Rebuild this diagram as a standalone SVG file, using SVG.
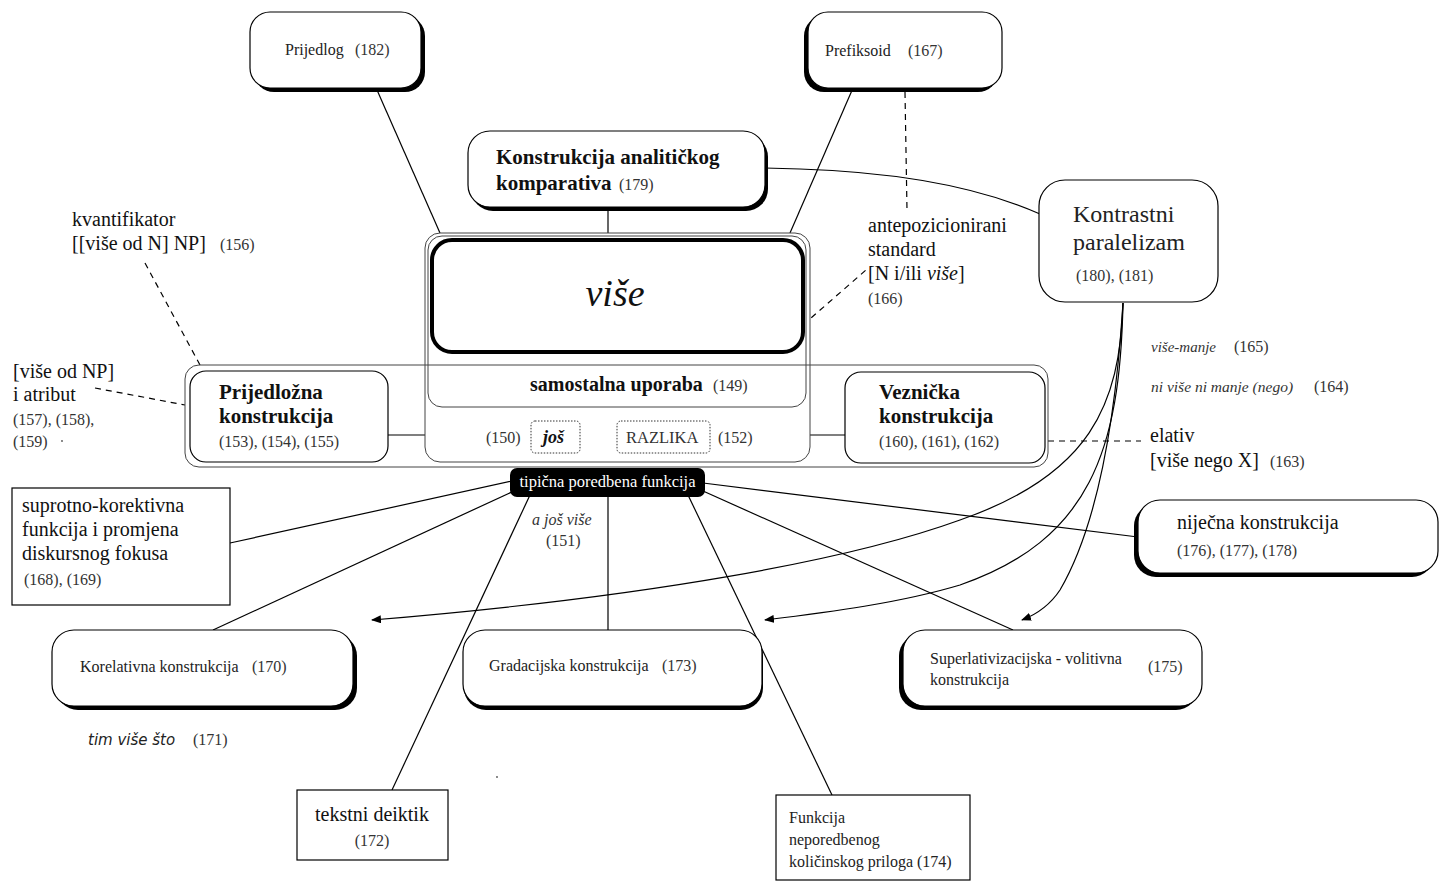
<svg xmlns="http://www.w3.org/2000/svg" width="1445" height="881" viewBox="0 0 1445 881">
<style>
.bx{fill:#fff;stroke:#000;stroke-width:1.2}
.sh{fill:#000}
.fr{fill:none;stroke:#444;stroke-width:1}
.ln{fill:none;stroke:#000;stroke-width:1.2}
.ds{fill:none;stroke:#000;stroke-width:1.2;stroke-dasharray:6 5}
.dt{fill:#fff;stroke:#333;stroke-width:1;stroke-dasharray:1.5 1.5}
text{font-family:"Liberation Serif","Times New Roman",serif;fill:#111}
.n{font-size:16px;fill:#333}
.s20{font-size:20px}
.b{font-weight:bold;font-size:21px}
.i{font-style:italic}
</style>
<defs>
<marker id="ar" markerWidth="10" markerHeight="8" refX="9" refY="4" orient="auto" markerUnits="userSpaceOnUse">
<path d="M0,0 L10,4 L0,8 Z" fill="#000"/>
</marker>
</defs>

<g id="connectors">
<line class="ln" x1="377" y1="90" x2="440" y2="233"/>
<line class="ln" x1="853" y1="88" x2="790" y2="233"/>
<line class="ln" x1="608" y1="207" x2="608" y2="233"/>
<path class="ln" d="M765,168 L800,169 Q950,174 1040,214"/>
<line class="ds" x1="905" y1="92" x2="907" y2="210"/>
<line class="ds" x1="803" y1="325" x2="866" y2="270"/>
<line class="ds" x1="145" y1="263" x2="200" y2="365"/>
<line class="ds" x1="95" y1="388" x2="185" y2="405"/>
<line class="ds" x1="1048" y1="441" x2="1141" y2="441"/>
<line class="ln" x1="388" y1="435" x2="425" y2="435"/>
<line class="ln" x1="810" y1="435" x2="845" y2="435"/>
<line class="ln" x1="557" y1="407" x2="557" y2="421"/>
<line class="ln" x1="665" y1="407" x2="665" y2="421"/>
<line class="ln" x1="512" y1="481" x2="230" y2="543"/>
<line class="ln" x1="514" y1="491" x2="213" y2="630"/>
<line class="ln" x1="530" y1="495" x2="392" y2="790"/>
<line class="ln" x1="608" y1="497" x2="608" y2="630"/>
<line class="ln" x1="688" y1="495" x2="832" y2="795"/>
<line class="ln" x1="703" y1="491" x2="1013" y2="630"/>
<line class="ln" x1="703" y1="483" x2="1138" y2="537"/>
<path class="ln" marker-end="url(#ar)" d="M1123,303 C1120,405 1090,475 960,520 C850,560 650,597 372,620"/>
<path class="ln" marker-end="url(#ar)" d="M1123,303 C1120,450 1090,540 960,585 C900,603 830,612 765,620"/>
<path class="ln" marker-end="url(#ar)" d="M1123,303 C1115,430 1095,530 1060,590 C1050,605 1035,615 1022,620"/>
</g>

<g id="prijedlog">
<rect class="sh" x="254" y="16" width="171" height="76" rx="20"/>
<rect class="bx" x="250" y="12" width="171" height="76" rx="20"/>
<text class="n" x="285" y="55" style="fill:#222">Prijedlog</text>
<text class="n" x="355" y="55">(182)</text>
</g>

<g id="prefiksoid">
<rect class="sh" x="804" y="16" width="194" height="76" rx="20"/>
<rect class="bx" x="808" y="12" width="194" height="76" rx="20"/>
<text class="n" x="825" y="56" style="fill:#222">Prefiksoid</text>
<text class="n" x="908" y="56">(167)</text>
</g>

<g id="konstrukcija-analitickog">
<rect class="sh" x="471" y="135" width="297" height="76" rx="22"/>
<rect class="bx" x="468" y="131" width="297" height="76" rx="22"/>
<text class="b" x="496" y="164">Konstrukcija analitičkog</text>
<text class="b" x="496" y="190">komparativa</text>
<text class="n" x="619" y="190">(179)</text>
</g>

<g id="vise">
<rect class="bx" x="425" y="233" width="385" height="229" rx="15" style="stroke:#444;stroke-width:1"/>
<rect class="fr" x="428" y="236" width="378" height="171" rx="14"/>
<rect x="432" y="240" width="371" height="112" rx="20" fill="#fff" stroke="#000" stroke-width="4"/>
<text x="615" y="306" text-anchor="middle" class="i" style="font-size:38px">više</text>
<text x="530" y="391" style="font-weight:bold;font-size:20px">samostalna uporaba</text>
<text class="n" x="713" y="391">(149)</text>
<text class="n" x="486" y="443">(150)</text>
<rect class="dt" x="531" y="421" width="49" height="32" rx="4"/>
<text x="543" y="443" style="font-weight:bold;font-style:italic;font-size:18px">još</text>
<rect class="dt" x="617" y="421" width="93" height="32" rx="4"/>
<text x="626" y="443" style="font-size:16.5px;fill:#333">RAZLIKA</text>
<text class="n" x="718" y="443">(152)</text>
</g>

<g id="band">
<rect class="fr" x="185" y="365" width="863" height="102" rx="14"/>
</g>

<g id="prijedlozna">
<rect class="bx" x="190" y="371" width="198" height="91" rx="16"/>
<text class="b" x="219" y="399">Prijedložna</text>
<text class="b" x="219" y="423">konstrukcija</text>
<text class="n" x="219" y="447">(153), (154), (155)</text>
</g>

<g id="veznicka">
<rect class="bx" x="845" y="372" width="200" height="91" rx="16"/>
<text class="b" x="879" y="399">Veznička</text>
<text class="b" x="879" y="423">konstrukcija</text>
<text class="n" x="879" y="447">(160), (161), (162)</text>
</g>

<g id="tipicna">
<rect x="510" y="468" width="195" height="29" rx="7" fill="#000"/>
<text x="607.5" y="487" text-anchor="middle" style="font-size:16.5px;fill:#fff">tipična poredbena funkcija</text>
<text x="532" y="525" class="i" style="font-size:16px;fill:#333">a još više</text>
<text class="n" x="546" y="546">(151)</text>
</g>

<g id="kontrastni">
<rect class="bx" x="1039" y="180" width="179" height="122" rx="26"/>
<text x="1073" y="222" style="font-size:24px;fill:#222">Kontrastni</text>
<text x="1073" y="250" style="font-size:24px;fill:#222">paralelizam</text>
<text class="n" x="1076" y="281">(180), (181)</text>
</g>

<g id="kvantifikator">
<text class="s20" x="72" y="226">kvantifikator</text>
<text class="s20" x="72" y="250">[[više od N] NP]</text>
<text class="n" x="220" y="250">(156)</text>
</g>

<g id="atribut">
<text class="s20" x="13" y="378">[više od NP]</text>
<text class="s20" x="13" y="401">i atribut</text>
<text class="n" x="13" y="425">(157), (158),</text>
<text class="n" x="13" y="447">(159)</text>
<circle cx="62" cy="441" r="0.9" fill="#555"/>
</g>

<g id="antepozicionirani">
<text class="s20" x="868" y="232">antepozicionirani</text>
<text class="s20" x="868" y="256">standard</text>
<text class="s20" x="868" y="280">[N i/ili <tspan class="i">više</tspan>]</text>
<text class="n" x="868" y="304">(166)</text>
</g>

<g id="vise-manje">
<text x="1151" y="352" class="i" style="font-size:15px;fill:#333">više-manje</text>
<text class="n" x="1234" y="352">(165)</text>
<text x="1151" y="392" class="i" style="font-size:15.5px;fill:#333">ni više ni manje (nego)</text>
<text class="n" x="1314" y="392">(164)</text>
</g>

<g id="elativ">
<text class="s20" x="1150" y="442">elativ</text>
<text class="s20" x="1150" y="467">[više nego X]</text>
<text class="n" x="1270" y="467">(163)</text>
</g>

<g id="nijecna">
<rect class="sh" x="1134" y="504" width="300" height="73" rx="22"/>
<rect class="bx" x="1138" y="500" width="300" height="73" rx="22"/>
<text class="s20" x="1177" y="529">niječna konstrukcija</text>
<text class="n" x="1177" y="556">(176), (177), (178)</text>
</g>

<g id="suprotno">
<rect class="bx" x="12" y="488" width="218" height="117"/>
<text class="s20" x="22" y="512">suprotno-korektivna</text>
<text class="s20" x="22" y="536">funkcija i promjena</text>
<text class="s20" x="22" y="560">diskursnog fokusa</text>
<text class="n" x="24" y="585">(168), (169)</text>
</g>

<g id="korelativna">
<rect class="sh" x="56" y="634" width="301" height="76" rx="22"/>
<rect class="bx" x="52" y="630" width="301" height="76" rx="22"/>
<text class="n" x="80" y="672" style="fill:#222">Korelativna konstrukcija</text>
<text class="n" x="252" y="672">(170)</text>
<text x="88" y="745" style="font-family:'DejaVu Sans',sans-serif;font-style:italic;font-size:15px;fill:#222">tim više što</text>
<text class="n" x="193" y="745">(171)</text>
</g>

<g id="gradacijska">
<rect class="sh" x="464" y="634" width="299" height="76" rx="22"/>
<rect class="bx" x="463" y="630" width="299" height="76" rx="22"/>
<text class="n" x="489" y="671" style="fill:#222">Gradacijska konstrukcija</text>
<text class="n" x="662" y="671">(173)</text>
</g>

<g id="superlativizacijska">
<rect class="sh" x="899" y="634" width="299" height="76" rx="22"/>
<rect class="bx" x="903" y="630" width="299" height="76" rx="22"/>
<text class="n" x="930" y="664" style="fill:#222">Superlativizacijska - volitivna</text>
<text class="n" x="930" y="685" style="fill:#222">konstrukcija</text>
<text class="n" x="1148" y="672">(175)</text>
</g>

<g id="tekstni">
<rect class="bx" x="297" y="790" width="151" height="70"/>
<text class="s20" x="372" y="821" text-anchor="middle">tekstni deiktik</text>
<text class="n" x="372" y="846" text-anchor="middle">(172)</text>
</g>

<g id="funkcija">
<rect class="bx" x="776" y="795" width="194" height="85"/>
<text class="n" x="789" y="823" style="fill:#222">Funkcija</text>
<text class="n" x="789" y="845" style="fill:#222">neporedbenog</text>
<text class="n" x="789" y="867" style="fill:#222">količinskog priloga (174)</text>
</g>
<circle cx="497" cy="777" r="0.9" fill="#555"/>
</svg>
